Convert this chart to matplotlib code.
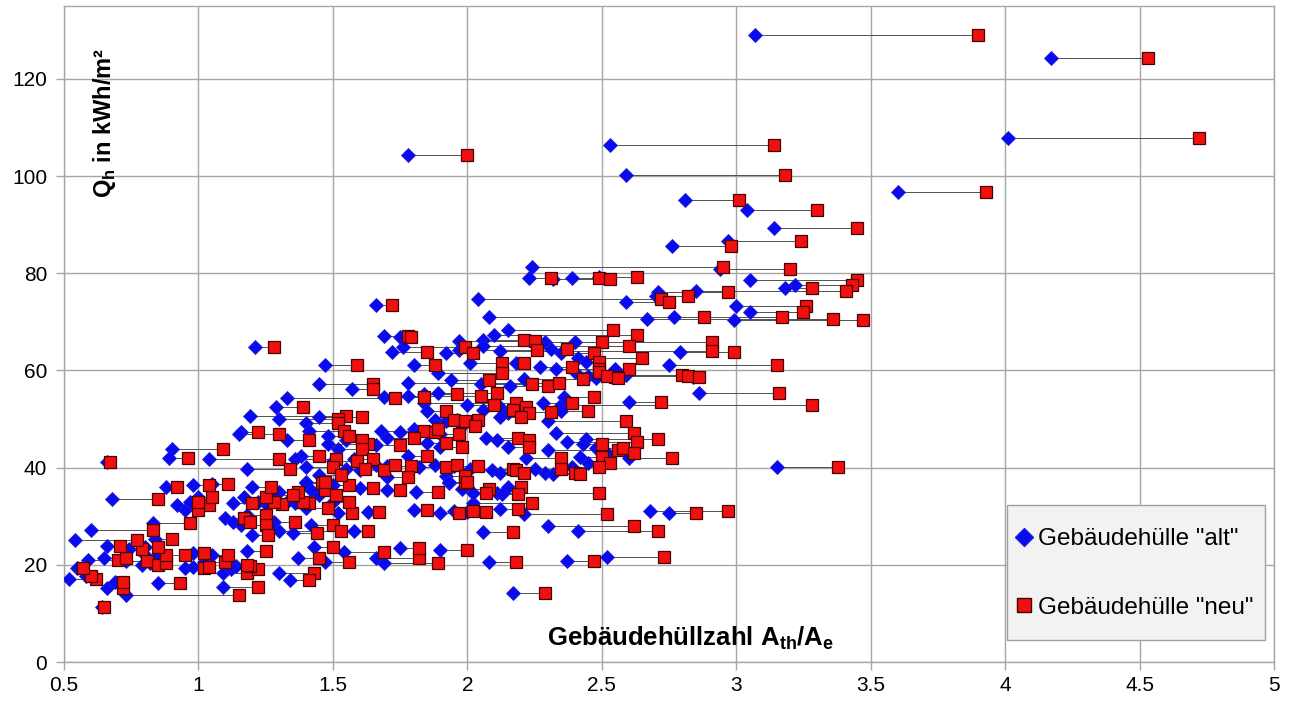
import matplotlib
matplotlib.use("Agg")
import matplotlib.pyplot as plt
from matplotlib.lines import Line2D
from matplotlib.patches import Rectangle

plt.rcParams['font.family'] = ['Liberation Sans', 'DejaVu Sans']
plt.rcParams['mathtext.fontset'] = 'custom'
plt.rcParams['mathtext.rm'] = 'Liberation Sans'
plt.rcParams['mathtext.bf'] = 'Liberation Sans:bold'

# ---- data: (A_th/A_e "alt", A_th/A_e "neu", Q_h) ----
a_alt = [3.07, 4.17, 4.01, 1.78, 2.53, 2.59, 3.60, 2.81, 3.04, 3.14,
         2.97, 2.76, 2.24, 2.94, 2.23, 2.39, 2.32, 2.49, 3.05, 3.22,
         3.18, 2.85, 2.04, 2.59, 2.70, 2.71, 3.00, 3.05, 2.08, 2.77,
         2.99, 2.67, 2.15, 2.10, 2.06, 1.97, 2.40, 2.06, 2.29, 2.12,
         1.97, 2.31, 2.35, 2.79, 2.41, 2.75, 2.44, 2.27, 2.33, 2.01,
         2.18, 1.80, 1.47, 1.72, 1.76, 1.92, 1.69, 1.75, 1.66, 1.21,
         2.55, 2.59, 2.57, 2.84, 2.48, 2.86, 2.60, 2.35, 2.30, 2.33,
         2.37, 2.44, 2.43, 2.30, 2.48, 2.52, 2.60, 2.42, 2.45, 2.39,
         3.15, 2.52, 2.68, 2.75, 2.21, 2.41, 2.30, 2.06, 1.90, 2.08,
         2.37, 2.17, 2.02, 1.90, 1.95, 2.00, 2.12, 1.93, 1.98, 2.02,
         2.15, 2.11, 2.13, 1.81, 1.70, 1.80, 1.63, 1.52, 1.50, 1.40,
         1.36, 1.33, 1.25, 1.22, 1.13, 1.17, 1.20, 1.30, 1.28, 1.40,
         1.42, 1.45, 1.50, 1.60, 1.10, 1.13, 1.18, 1.16, 1.28, 1.20,
         1.35, 1.42, 1.30, 1.58, 1.18, 1.43, 1.54, 1.66, 1.69, 1.47,
         1.37, 1.75, 1.09, 1.12, 1.14, 1.30, 1.34, 1.09, 0.73, 0.64,
         0.52, 0.58, 0.66, 0.69, 0.85, 0.55, 0.59, 0.65, 0.73, 0.79,
         0.82, 0.95, 0.98, 1.02, 1.12, 0.85, 0.80, 0.98, 1.05, 0.66,
         0.74, 0.80, 0.54, 0.84, 0.60, 0.83, 0.92, 0.95, 0.97, 1.00,
         0.68, 0.88, 0.98, 1.05, 0.66, 0.90, 0.89, 1.04, 1.16, 1.19,
         1.45, 1.57, 1.33, 1.69, 1.29, 1.30, 1.45, 1.40, 1.15, 1.41,
         1.33, 1.48, 1.68, 1.70, 1.75, 1.48, 1.55, 1.52, 1.66, 1.38,
         1.36, 1.40, 1.50, 1.58, 1.55, 1.60, 1.66, 1.70, 1.70, 1.78,
         1.18, 1.45, 1.40, 1.89, 1.94, 2.05, 2.16, 1.78, 2.21, 2.40,
         2.45, 2.48, 1.84, 1.78, 1.89, 2.00, 1.84, 2.06, 2.12, 2.15,
         2.20, 2.28, 2.35, 2.36, 1.85, 1.88, 1.92, 1.96, 1.98, 2.12,
         1.80, 1.90, 1.85, 1.90, 2.07, 2.11, 2.15, 1.82, 1.88, 1.95,
         1.92, 1.93, 2.01, 2.09, 2.12, 2.22, 2.25, 2.29, 2.32]

a_neu = [3.90, 4.53, 4.72, 2.00, 3.14, 3.18, 3.93, 3.01, 3.30, 3.45,
         3.24, 2.98, 2.95, 3.20, 2.31, 2.49, 2.53, 2.63, 3.45, 3.43,
         3.28, 3.41, 2.72, 2.75, 2.82, 2.97, 3.26, 3.25, 2.88, 3.17,
         3.47, 3.36, 2.54, 2.63, 2.21, 2.25, 2.50, 2.60, 2.91, 2.91,
         2.26, 2.37, 2.47, 2.99, 2.65, 3.15, 2.49, 2.39, 2.49, 2.13,
         2.21, 1.88, 1.59, 1.85, 1.99, 2.02, 1.78, 1.79, 1.72, 1.28,
         2.60, 2.80, 2.82, 2.86, 2.55, 3.16, 2.72, 3.28, 2.59, 2.62,
         2.63, 2.71, 2.50, 2.56, 2.58, 2.62, 2.76, 2.50, 2.53, 2.49,
         3.38, 2.73, 2.97, 2.85, 2.52, 2.71, 2.62, 2.17, 2.00, 2.18,
         2.47, 2.29, 2.24, 1.97, 2.02, 2.07, 2.19, 1.99, 2.08, 2.07,
         2.20, 2.49, 2.19, 1.89, 1.75, 1.85, 1.67, 1.57, 1.56, 1.48,
         1.41, 1.39, 1.31, 1.28, 1.20, 1.25, 1.27, 1.37, 1.35, 1.46,
         1.47, 1.51, 1.56, 1.65, 1.17, 1.19, 1.25, 1.25, 1.36, 1.26,
         1.44, 1.50, 1.53, 1.63, 1.25, 1.50, 1.69, 1.82, 1.89, 1.56,
         1.45, 1.82, 1.18, 1.22, 1.19, 1.43, 1.41, 1.22, 1.15, 0.65,
         0.62, 0.60, 0.72, 0.72, 0.93, 0.57, 0.70, 0.73, 0.81, 0.85,
         0.88, 1.02, 1.04, 1.10, 1.18, 0.95, 0.88, 1.02, 1.11, 0.71,
         0.79, 0.85, 0.77, 0.90, 0.83, 0.97, 1.04, 1.00, 1.00, 1.05,
         0.85, 0.92, 1.04, 1.11, 0.67, 1.09, 0.96, 1.30, 1.22, 1.55,
         1.65, 1.65, 1.73, 1.84, 1.39, 1.52, 1.61, 1.52, 1.30, 1.54,
         1.41, 1.56, 1.84, 1.80, 1.88, 1.63, 1.61, 1.61, 1.75, 1.45,
         1.51, 1.50, 1.59, 1.65, 1.62, 1.69, 1.73, 1.79, 1.78, 1.85,
         1.34, 1.53, 1.47, 2.13, 2.08, 2.24, 2.30, 2.34, 2.43, 2.49,
         2.52, 2.56, 1.96, 2.05, 2.11, 2.10, 2.18, 2.17, 2.22, 2.23,
         2.31, 2.39, 2.45, 2.47, 1.92, 1.95, 1.99, 2.04, 2.03, 2.20,
         1.89, 1.97, 1.92, 1.98, 2.19, 2.23, 2.23, 1.92, 1.96, 2.04,
         1.99, 2.00, 2.17, 2.18, 2.21, 2.35, 2.35, 2.40, 2.42]

q_h = [129.0, 124.3, 107.8, 104.4, 106.3, 100.3, 96.7, 95.1, 93.0, 89.3,
       86.7, 85.7, 81.2, 80.9, 79.0, 79.1, 78.8, 79.2, 78.6, 77.6,
       77.0, 76.4, 74.8, 74.1, 75.3, 76.2, 73.3, 72.1, 71.1, 71.0,
       70.4, 70.6, 68.4, 67.3, 66.2, 66.1, 65.8, 65.0, 65.8, 64.1,
       64.3, 64.5, 63.6, 63.8, 62.6, 61.2, 61.8, 60.7, 60.4, 61.5,
       61.6, 61.1, 61.2, 63.8, 64.8, 63.6, 67.1, 66.9, 73.4, 64.9,
       60.4, 59.1, 58.8, 58.7, 58.7, 55.4, 53.6, 52.9, 49.5, 47.1,
       45.3, 45.9, 44.9, 43.6, 44.1, 43.0, 42.0, 42.2, 41.0, 40.1,
       40.2, 21.7, 31.1, 30.6, 30.4, 26.9, 27.9, 26.8, 23.1, 20.5,
       20.7, 14.3, 32.8, 30.7, 31.1, 30.9, 31.5, 36.9, 35.6, 34.8,
       36.0, 34.8, 34.5, 35.0, 35.4, 31.3, 30.9, 30.7, 32.9, 31.7,
       32.7, 33.0, 32.5, 32.9, 32.7, 34.0, 36.0, 35.0, 34.4, 36.8,
       35.4, 34.4, 36.4, 35.8, 29.6, 28.8, 30.3, 28.2, 28.8, 26.1,
       26.5, 28.2, 27.0, 26.9, 22.9, 23.6, 22.6, 21.4, 20.3, 20.6,
       21.4, 23.5, 18.4, 19.1, 19.8, 18.4, 16.9, 15.4, 13.8, 11.3,
       17.0, 17.7, 15.3, 16.4, 16.2, 19.4, 20.9, 21.4, 20.8, 20.0,
       20.4, 19.3, 19.6, 20.6, 20.0, 22.0, 22.1, 22.4, 22.0, 23.9,
       23.3, 23.7, 25.2, 25.3, 27.2, 28.6, 32.3, 31.2, 33.0, 34.0,
       33.6, 36.0, 36.4, 36.6, 41.1, 43.9, 42.0, 41.8, 47.4, 50.6,
       57.3, 56.2, 54.3, 54.5, 52.4, 50.1, 50.4, 49.2, 47.0, 47.6,
       45.7, 46.5, 47.6, 46.2, 47.3, 44.8, 45.7, 43.8, 44.7, 42.4,
       41.8, 40.1, 41.4, 41.8, 39.7, 39.5, 40.6, 40.3, 38.1, 42.4,
       39.7, 38.5, 37.1, 59.5, 58.0, 57.2, 56.8, 57.4, 58.2, 59.7,
       58.9, 58.5, 55.2, 54.8, 55.4, 52.9, 53.3, 51.9, 52.5, 51.3,
       51.5, 53.3, 51.7, 54.5, 51.7, 49.8, 49.6, 49.8, 48.6, 50.4,
       48.0, 46.9, 45.1, 44.3, 46.1, 45.7, 44.3, 40.1, 40.6, 40.3,
       38.3, 37.1, 39.7, 39.6, 38.9, 42.0, 39.7, 38.8, 38.7]

x_ticks = [0.5, 1, 1.5, 2, 2.5, 3, 3.5, 4, 4.5, 5]
x_tick_labels = ['0.5', '1', '1.5', '2', '2.5', '3', '3.5', '4', '4.5', '5']
y_ticks = [0, 20, 40, 60, 80, 100, 120]

label_alt = 'Gebäudehülle "alt"'
label_neu = 'Gebäudehülle "neu"'

# ---- figure ----
fig = plt.figure(figsize=(12.96, 7.06), dpi=100)
ax = fig.add_axes([64/1296, 1-662/706, (1274-64)/1296, (662-6)/706])

grid_c = '#A6A6A6'
ax.hlines(q_h, a_alt, a_neu, colors='#505050', linewidth=0.7, zorder=2)
ax.plot(a_alt, q_h, linestyle='none', marker='D', markersize=7.6,
        markerfacecolor='#0A0AF0', markeredgecolor='#1E1ED8', markeredgewidth=0.6,
        zorder=3, label=label_alt)
ax.plot(a_neu, q_h, linestyle='none', marker='s', markersize=8.2,
        markerfacecolor='#F01010', markeredgecolor='#4A0000', markeredgewidth=0.9,
        zorder=4, label=label_neu)

ax.set_xlim(0.5, 5)
ax.set_ylim(0, 135)
ax.set_xticks(x_ticks)
ax.set_xticklabels(x_tick_labels)
ax.set_yticks(y_ticks)
ax.grid(True, color=grid_c, linewidth=1.0, zorder=0)
ax.set_axisbelow(True)
for s in ax.spines.values():
    s.set_color(grid_c)
    s.set_linewidth(1.0)
ax.tick_params(axis='both', colors=grid_c, labelcolor='#000000', labelsize=15,
               length=6, width=1.0)
ax.tick_params(axis='x', pad=4)
ax.tick_params(axis='y', pad=6)

ax.text(0.652, 111, r'Q$_\mathbf{h}$ in kWh/m²', rotation=90, fontsize=17,
        fontweight='bold', ha='center', va='center', zorder=5)
ax.text(2.83, 4.9, r'Gebäudehüllzahl A$_\mathbf{th}$/A$_\mathbf{e}$', fontsize=18.5,
        fontweight='bold', ha='center', va='center', zorder=5)

# legend box (frame drawn as a patch so that padding can be set freely)
box = Rectangle((0.779, 0.0335), 0.2136, 0.2055, transform=ax.transAxes,
                facecolor='#F2F2F2', edgecolor='#A0A0A0', linewidth=1.0, zorder=5.5)
ax.add_patch(box)
handles = [Line2D([], [], linestyle='none', marker='D', markersize=9.5,
                  markerfacecolor='#0A0AF0', markeredgecolor='#1E1ED8'),
           Line2D([], [], linestyle='none', marker='s', markersize=9.5,
                  markerfacecolor='#F01010', markeredgecolor='#4A0000')]
leg = ax.legend(handles, [label_alt, label_neu], loc='center left',
                bbox_to_anchor=(0.779, 0.135), fontsize=17.5, frameon=False,
                labelspacing=1.9, handlelength=0.6, handletextpad=0.3,
                borderpad=0.4, borderaxespad=0)
leg.set_zorder(6)

fig.savefig('out.png', dpi=100)
